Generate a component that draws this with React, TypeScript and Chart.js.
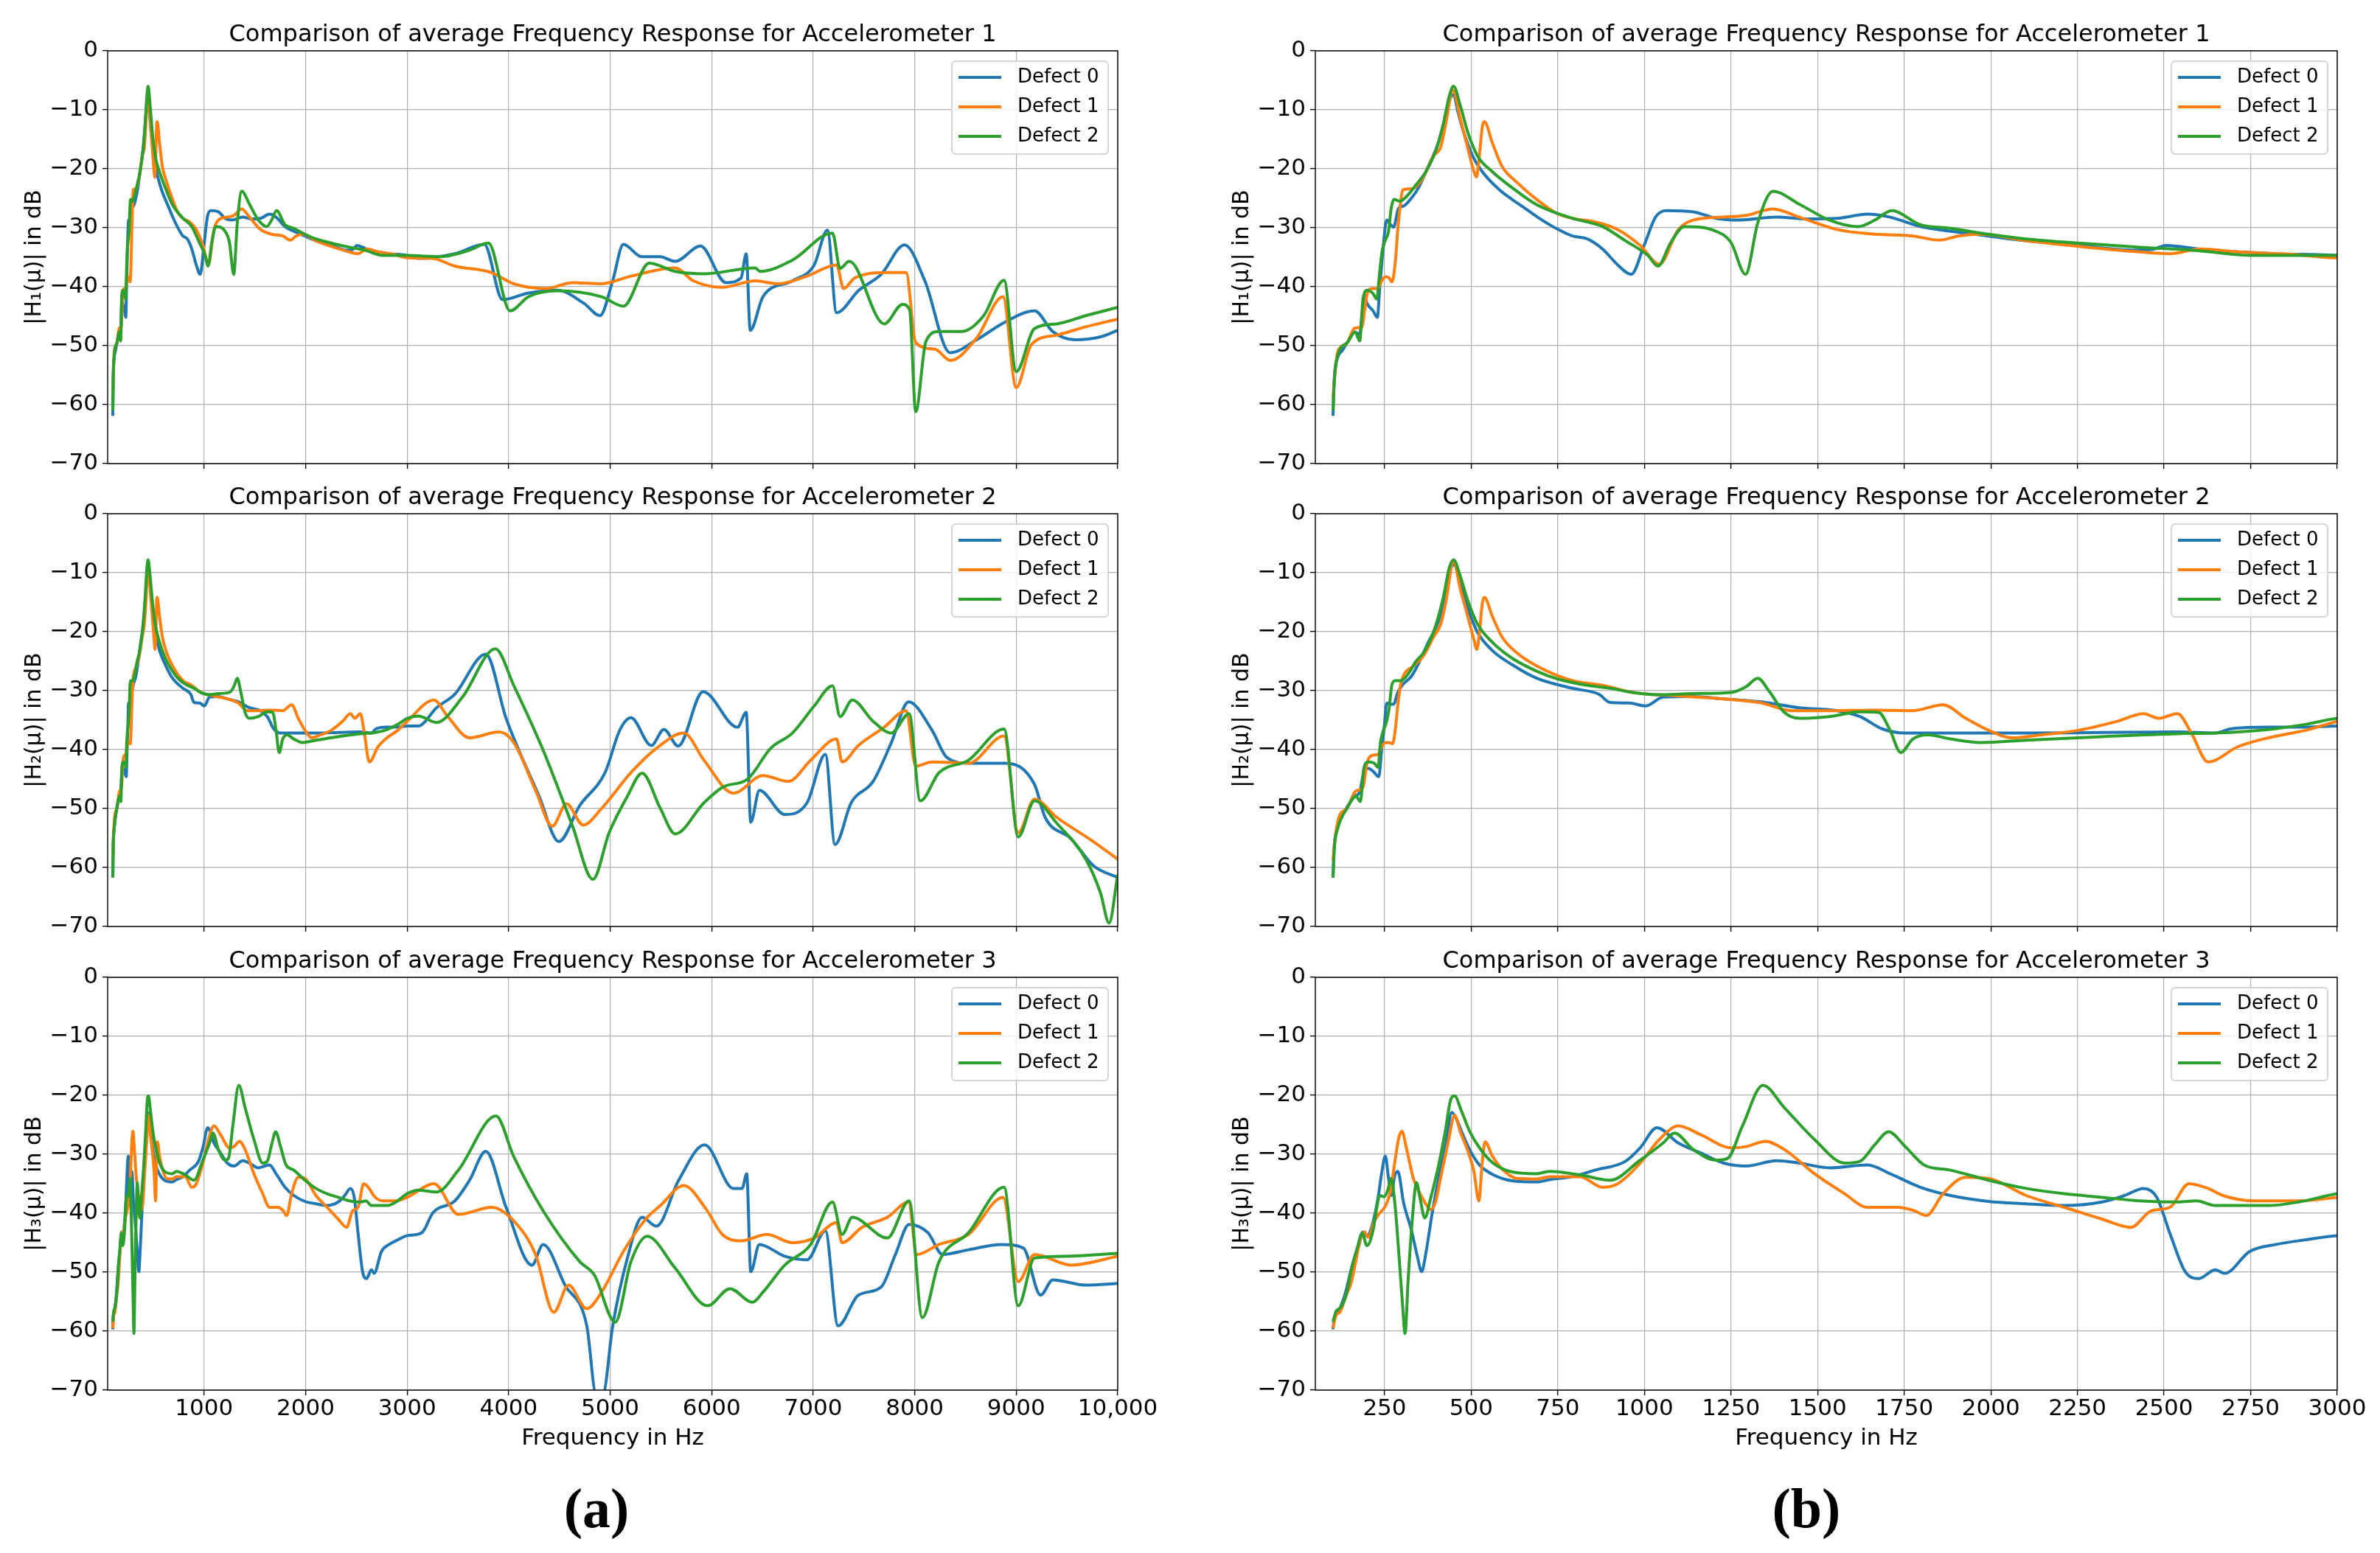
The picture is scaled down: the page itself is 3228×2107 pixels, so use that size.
import React, { useEffect, useRef } from 'react';
import { Chart, registerables } from 'chart.js';

Chart.register(...registerables);

const FONT_FAMILY = "'DejaVu Sans', 'Liberation Sans', sans-serif";

// ---------- labels / ticks ----------
const defectLabels = ['Defect 0', 'Defect 1', 'Defect 2'];
const defectColors = ['#1f77b4', '#ff7f0e', '#2ca02c'];
const chartTitles = [
  'Comparison of average Frequency Response for Accelerometer 1',
  'Comparison of average Frequency Response for Accelerometer 2',
  'Comparison of average Frequency Response for Accelerometer 3',
];
const yAxisLabels = ['|H\u2081(\u03bc)| in dB', '|H\u2082(\u03bc)| in dB', '|H\u2083(\u03bc)| in dB'];
const xAxisLabel = 'Frequency in Hz';
const xTicksWide = [1000, 2000, 3000, 4000, 5000, 6000, 7000, 8000, 9000, 10000];
const xTickLabelsWide = ['1000', '2000', '3000', '4000', '5000', '6000', '7000', '8000', '9000', '10,000'];
const xTicksNarrow = [250, 500, 750, 1000, 1250, 1500, 1750, 2000, 2250, 2500, 2750, 3000];
const xTickLabelsNarrow = ['250', '500', '750', '1000', '1250', '1500', '1750', '2000', '2250', '2500', '2750', '3000'];
const yTickValues = [-70, -60, -50, -40, -30, -20, -10, 0];
const panelLabels = ['(a)', '(b)'];

// ---------- data: [frequency Hz, magnitude dB] ----------
type Pair = [number, number];

const acc1Defect0: Pair[] = [[101,-61.9],[105,-55.3],[114,-52.1],[128,-50.8],[142,-49.5],[164,-47.7],[178,-48.1],[185,-44.6],[192,-41.4],[199,-42.8],[217,-44.1],[229,-45.2],[236,-40.1],[245,-33.9],[256,-28.7],[266,-29.4],[276,-29.9],[290,-26.7],[305,-26.3],[327,-25],[348,-23.2],[376,-19.6],[405,-15.6],[426,-11.1],[440,-8],[449,-7.4],[461,-10.2],[476,-13.4],[504,-17.8],[532,-20.5],[582,-23.6],[618,-25.2],[653,-26.6],[689,-28.1],[748,-30.2],[792,-31.4],[835,-31.9],[879,-33.6],[923,-36.3],[962,-37.9],[999,-33],[1032,-28.2],[1065,-27.1],[1141,-27.3],[1207,-28.4],[1272,-28.7],[1381,-28.2],[1469,-28.5],[1556,-28.4],[1644,-27.7],[1709,-28.2],[1797,-29.8],[1884,-30.6],[1993,-31.4],[2102,-32.2],[2255,-33],[2408,-33.8],[2463,-33.7],[2507,-33],[2561,-33.3],[2627,-33.8],[2714,-34.1],[2823,-34.4],[3000,-34.7],[3110,-35.2],[3470,-34.4],[3760,-32.8],[3940,-42.2],[4190,-41.1],[4480,-40.6],[4740,-42.8],[4900,-44.9],[5025,-39],[5130,-32.8],[5310,-34.9],[5490,-34.9],[5640,-35.7],[5890,-33.1],[6140,-39.3],[6290,-38.5],[6340,-34.4],[6380,-47.4],[6505,-41.7],[6795,-39],[7010,-36.3],[7140,-30.4],[7230,-44.4],[7450,-40.6],[7670,-37.9],[7900,-32.9],[8100,-39],[8350,-51.2],[8610,-49],[8890,-46],[9180,-44.1],[9360,-47.6],[9580,-49],[9830,-48.5],[10000,-47.4]];

const acc1Defect1: Pair[] = [[101,-58.8],[105,-55.7],[114,-51.2],[121,-50.4],[142,-49.5],[164,-47],[185,-46.8],[192,-44.1],[199,-41.4],[213,-40.3],[231,-40.3],[240,-39.2],[252,-38.3],[263,-38.5],[271,-39.2],[281,-35.7],[288,-30.3],[295,-26.3],[302,-23.6],[320,-23.4],[337,-23.2],[362,-21.4],[391,-17.8],[412,-16.3],[426,-12.5],[447,-6.7],[469,-11.6],[490,-16.5],[508,-20.5],[515,-21.4],[522,-18.7],[532,-12.9],[538,-12],[561,-15.6],[589,-19.6],[632,-22.3],[689,-25.2],[748,-27.6],[792,-28.4],[857,-29],[923,-30.3],[988,-33],[1043,-36.2],[1098,-30.3],[1141,-28.7],[1229,-28.2],[1294,-27.9],[1371,-26.8],[1447,-28.2],[1556,-30.3],[1665,-31.1],[1775,-31.4],[1851,-32.1],[1906,-31.4],[1971,-31.1],[2102,-32.2],[2277,-33.3],[2430,-34.1],[2517,-34.4],[2605,-33.6],[2714,-34.1],[2867,-34.5],[3000,-35.1],[3250,-35.2],[3470,-36.5],[3830,-37.6],[4050,-39.5],[4370,-40.3],[4630,-39.3],[4915,-39.5],[5205,-38.2],[5640,-36.8],[5820,-39],[6105,-40.1],[6430,-39],[6650,-39.5],[6940,-38.2],[7230,-36.3],[7300,-40.3],[7410,-38.5],[7730,-37.6],[7915,-37.6],[8010,-49.5],[8200,-50.6],[8350,-52.5],[8610,-48.7],[8870,-41.7],[9000,-57.1],[9150,-49.8],[9400,-48.2],[9685,-46.8],[10000,-45.5]];

const acc1Defect2: Pair[] = [[101,-61],[105,-55.7],[117,-51.2],[142,-49.5],[165,-47.7],[178,-49.2],[188,-41.9],[200,-40.6],[217,-41.2],[227,-42.1],[236,-37.4],[243,-33.9],[252,-32.1],[261,-30.7],[269,-26.7],[277,-25.2],[295,-25.5],[313,-24.7],[341,-22.7],[369,-20.5],[398,-16.9],[419,-12.5],[437,-7.6],[449,-6],[469,-9.4],[490,-13.8],[518,-17.8],[561,-20.5],[618,-23.2],[689,-26.1],[792,-28.4],[879,-29.8],[945,-32.2],[1010,-34.7],[1039,-36.5],[1076,-32.5],[1115,-29.8],[1207,-30.6],[1250,-32.5],[1292,-37.9],[1327,-29.2],[1371,-23.8],[1447,-26],[1534,-28.7],[1617,-29.8],[1665,-28.7],[1714,-27.1],[1797,-29.5],[1884,-30.1],[1993,-31.1],[2102,-31.9],[2277,-32.7],[2430,-33.3],[2583,-33.8],[2758,-34.7],[3000,-34.7],[3325,-34.9],[3615,-33.8],[3800,-32.6],[4015,-44.1],[4195,-41.7],[4480,-40.7],[4915,-41.7],[5130,-43.3],[5385,-36],[5640,-37.4],[5930,-37.8],[6430,-36.8],[6475,-37.4],[6795,-35.5],[7190,-30.9],[7265,-36.9],[7355,-35.7],[7700,-46.3],[7880,-43],[7950,-43.9],[8010,-61.2],[8110,-49.3],[8240,-47.6],[8460,-47.6],[8680,-44.9],[8880,-38.9],[9000,-54.4],[9180,-47.1],[9400,-46.3],[9685,-44.9],[10000,-43.5]];

const acc2Defect0: Pair[] = [[101,-61.7],[105,-56.1],[114,-53.3],[128,-51.2],[142,-49.7],[164,-47.9],[178,-47.2],[192,-43.4],[203,-43.2],[217,-43.7],[233,-44.6],[242,-39.7],[249,-36.1],[256,-32.1],[266,-32.3],[276,-32.3],[288,-30.3],[302,-29],[327,-27.6],[348,-25.4],[376,-21.8],[405,-18.3],[426,-13.4],[444,-8.9],[451,-8.7],[469,-12],[490,-16],[518,-20.1],[561,-23.2],[618,-25.6],[689,-27.9],[792,-29.6],[868,-30.6],[901,-32],[956,-32.1],[1003,-32.6],[1054,-31.1],[1141,-31],[1229,-31.4],[1338,-31.9],[1447,-32.9],[1556,-33.4],[1622,-34.4],[1687,-36.5],[1753,-37.2],[1884,-37.2],[2102,-37.2],[2321,-37.1],[2539,-37],[2648,-37.2],[2692,-36.5],[2801,-36.2],[2910,-36.2],[3000,-36],[3110,-36],[3290,-32.9],[3470,-30.6],[3775,-23.8],[3975,-34.7],[4300,-47.9],[4495,-55.6],[4700,-49.5],[4950,-43.9],[5095,-36.7],[5205,-34.6],[5405,-39.3],[5530,-36.6],[5670,-39.4],[5915,-30.2],[6255,-36.2],[6340,-33.7],[6385,-52.3],[6470,-46.9],[6720,-51],[6940,-49],[7120,-40.8],[7215,-56.1],[7375,-49],[7590,-45.4],[7770,-38.8],[7940,-31.9],[8170,-36.7],[8315,-41.3],[8530,-42.3],[8890,-42.3],[9180,-45.9],[9285,-51.5],[9540,-55.1],[9760,-59.7],[10000,-61.7]];

const acc2Defect1: Pair[] = [[101,-58.8],[105,-56.1],[117,-51.7],[142,-49.9],[164,-47.2],[178,-46.8],[188,-46.3],[199,-42.3],[213,-41],[231,-40.8],[240,-39.7],[252,-38.8],[263,-38.8],[273,-39],[281,-36.5],[288,-32.5],[295,-29.4],[305,-27.4],[334,-25.8],[362,-24.1],[391,-20.9],[412,-18.7],[426,-15.2],[449,-8.2],[469,-12.9],[490,-17.4],[508,-21.4],[516,-23],[524,-20.1],[532,-15.2],[538,-14.2],[561,-17.4],[589,-20.9],[632,-23.6],[689,-25.8],[792,-28.3],[879,-29.1],[966,-30.3],[1098,-30.9],[1229,-31.4],[1338,-32.1],[1425,-33.4],[1534,-33.4],[1665,-33.3],[1775,-33.4],[1862,-32.4],[1928,-34.7],[1993,-36.7],[2059,-38],[2146,-37.5],[2255,-36.7],[2365,-35.2],[2441,-33.9],[2485,-34.7],[2539,-33.9],[2579,-37.2],[2627,-42.1],[2714,-39.5],[2801,-38],[2910,-36.7],[3000,-35.2],[3265,-31.6],[3400,-34.4],[3615,-38],[3905,-37],[4050,-38.8],[4265,-46.9],[4430,-53],[4570,-49.2],[4735,-52.8],[4915,-50],[5205,-43.9],[5455,-39.8],[5725,-37.2],[5925,-41.8],[6215,-47.4],[6505,-44.4],[6755,-45.4],[6975,-41.8],[7230,-38.2],[7285,-42.1],[7445,-39.3],[7700,-36.2],[7915,-33.4],[8010,-42.8],[8170,-42.1],[8530,-42.3],[8880,-37.7],[9020,-54.1],[9180,-48.4],[9400,-51.5],[9760,-55.6],[10000,-58.6]];

const acc2Defect2: Pair[] = [[101,-61.7],[105,-56.6],[114,-53.5],[142,-49.9],[167,-47.9],[180,-48.8],[190,-43.2],[203,-42.1],[220,-42.3],[231,-43],[238,-38.8],[245,-37],[256,-35.2],[263,-33],[271,-29],[281,-28.3],[298,-28.3],[320,-27],[341,-25],[362,-23.6],[391,-20.1],[419,-14.3],[437,-9.1],[449,-7.8],[469,-10.7],[490,-14.7],[518,-18.7],[561,-21.8],[618,-24.5],[689,-26.7],[748,-28],[835,-29.1],[901,-29.6],[966,-30.3],[1054,-30.7],[1141,-30.5],[1250,-30.3],[1294,-29.3],[1327,-27.9],[1360,-30.1],[1404,-33.7],[1447,-34.7],[1534,-34.4],[1622,-33.6],[1676,-33.7],[1709,-36.7],[1740,-40.5],[1775,-38.2],[1818,-37.5],[1884,-38.2],[1971,-38.8],[2102,-38.4],[2321,-37.8],[2539,-37.3],[2648,-37.2],[2801,-36.6],[2910,-35.7],[3000,-34.7],[3110,-34.3],[3290,-35.4],[3545,-31.1],[3870,-22.9],[4050,-29.1],[4345,-40.3],[4630,-53],[4830,-62],[4990,-54.1],[5170,-47.9],[5315,-44],[5495,-50],[5640,-54.3],[5925,-49],[6105,-46.4],[6360,-44.9],[6580,-39.8],[6795,-37.2],[7010,-32.6],[7190,-29.2],[7265,-34.4],[7385,-31.6],[7590,-35.2],[7770,-37.2],[7945,-33.9],[8055,-48.7],[8240,-43.9],[8530,-41.8],[8880,-36.5],[9020,-54.8],[9180,-48.7],[9400,-52.5],[9685,-58.6],[9830,-64.3],[9915,-69.4],[10000,-61.2]];

const acc3Defect0: Pair[] = [[101,-59.7],[105,-57.7],[117,-56.6],[135,-53.9],[156,-49],[174,-45.9],[187,-43.2],[199,-43.9],[217,-41.4],[231,-37.4],[242,-33],[252,-30.3],[261,-33.9],[270,-37],[278,-33.9],[288,-32.9],[305,-38.3],[327,-42.8],[344,-47.2],[357,-49.9],[369,-46.8],[387,-40.1],[405,-34.3],[426,-28.5],[444,-22.9],[458,-24.1],[476,-26.7],[497,-29.4],[525,-31.9],[561,-33.4],[618,-34.5],[689,-34.7],[726,-34.3],[792,-33.8],[857,-32.7],[945,-31.2],[988,-28.9],[1036,-25.5],[1098,-28.1],[1163,-29.8],[1229,-31.5],[1294,-32],[1381,-31.1],[1447,-31.5],[1534,-32.3],[1644,-31.8],[1709,-33.3],[1797,-35.6],[1884,-37],[1993,-38],[2102,-38.4],[2212,-38.7],[2321,-38.1],[2386,-37],[2441,-35.8],[2479,-37.3],[2518,-43.6],[2561,-49.9],[2600,-51.1],[2648,-49.6],[2675,-50.2],[2747,-46.5],[2823,-45.3],[2910,-44.5],[3000,-43.8],[3145,-43.3],[3255,-39.9],[3470,-37.9],[3615,-34.4],[3775,-29.5],[3975,-39],[4230,-48.8],[4340,-45.3],[4555,-52.2],[4770,-59.1],[4860,-70.5],[4930,-70.5],[5025,-59.1],[5170,-47.6],[5315,-40.7],[5455,-42.2],[5675,-34.4],[5930,-28.4],[6215,-35.8],[6300,-35.8],[6345,-33.3],[6385,-49.9],[6470,-45.3],[6720,-47.3],[6940,-47.9],[7120,-43],[7245,-59.1],[7445,-53.9],[7670,-52.5],[7810,-47],[7945,-41.9],[8130,-43.3],[8275,-47],[8530,-46.2],[8855,-45.3],[9070,-45.9],[9240,-53.9],[9360,-51.3],[9685,-52.2],[10000,-51.9]];

const acc3Defect1: Pair[] = [[101,-59.5],[110,-57.3],[121,-56.8],[139,-53.9],[153,-51.9],[167,-48.1],[181,-44.1],[192,-43.2],[203,-44.1],[220,-41.4],[234,-40.1],[252,-38.8],[266,-36.5],[281,-30.7],[291,-27.2],[300,-26.1],[313,-29],[334,-34.3],[355,-37],[373,-38.8],[383,-39.4],[398,-37.9],[412,-33.9],[433,-28.1],[452,-23.4],[469,-26.3],[490,-29.4],[508,-33],[522,-37.9],[532,-31.2],[540,-27.9],[561,-30.3],[589,-32.5],[632,-34.1],[689,-34.2],[726,-33.8],[814,-33.8],[879,-35.6],[923,-35],[988,-31.5],[1043,-27.5],[1098,-25.2],[1163,-26.7],[1250,-28.9],[1294,-28.7],[1349,-27.8],[1404,-29.2],[1491,-33.3],[1578,-36.7],[1644,-39],[1731,-39],[1775,-39.5],[1814,-40.4],[1862,-36.7],[1928,-33.9],[1993,-34.1],[2102,-37],[2212,-39],[2321,-41],[2404,-42.4],[2463,-39.6],[2517,-39],[2572,-35],[2627,-35.8],[2670,-37],[2758,-37.9],[2889,-37.9],[3000,-37.3],[3265,-35],[3505,-40.2],[3830,-39],[4050,-41.3],[4265,-47],[4445,-56.8],[4590,-52.2],[4770,-56.2],[4915,-53.4],[5130,-46.5],[5350,-41],[5495,-38.7],[5725,-35.3],[5945,-39.3],[6105,-43.6],[6290,-44.7],[6545,-43.6],[6795,-45],[7010,-44.2],[7230,-41.6],[7285,-45],[7480,-42.4],[7730,-40.7],[7940,-38.1],[8020,-47],[8240,-45.3],[8530,-43.6],[8870,-37.3],[9020,-51.6],[9180,-47],[9540,-48.8],[10000,-47.3]];

const acc3Defect2: Pair[] = [[101,-58.4],[110,-56.6],[121,-56.1],[139,-53.9],[156,-49],[171,-45.9],[185,-43.4],[199,-45.5],[217,-42.8],[227,-39.2],[236,-37],[249,-37.2],[259,-36.1],[269,-34.1],[281,-39.2],[291,-46.8],[302,-55.7],[309,-60.4],[318,-51.2],[330,-41],[342,-34.8],[352,-37.4],[366,-40.8],[383,-37.4],[405,-32.1],[426,-25.8],[440,-20.9],[452,-20.1],[472,-22.7],[497,-26.3],[525,-29],[561,-31.4],[618,-33],[689,-33.3],[726,-32.9],[814,-33.5],[901,-34.4],[988,-31],[1054,-28.1],[1087,-26.4],[1141,-29.2],[1207,-31],[1240,-30.7],[1283,-25.2],[1342,-18.3],[1404,-22.1],[1491,-27.5],[1578,-31.5],[1622,-31.2],[1665,-28.4],[1705,-26.2],[1753,-28.7],[1807,-31.8],[1884,-32.7],[1993,-34.4],[2102,-35.8],[2212,-36.7],[2321,-37.3],[2430,-37.9],[2539,-38.1],[2594,-37.9],[2648,-38.7],[2801,-38.7],[2889,-38.1],[3000,-36.7],[3110,-36.1],[3290,-36.4],[3505,-32.7],[3875,-23.5],[4050,-30.4],[4340,-39.6],[4700,-48.2],[4845,-50.5],[5050,-58.5],[5205,-48.2],[5365,-43.9],[5640,-49.3],[5960,-55.7],[6180,-52.8],[6400,-55.1],[6505,-53.4],[6720,-48.8],[6975,-45.3],[7190,-38.1],[7285,-43.6],[7385,-40.7],[7730,-44.2],[7945,-37.9],[8075,-57.7],[8240,-48.2],[8530,-43.3],[8880,-35.6],[9020,-55.7],[9180,-47.6],[9470,-47.3],[10000,-46.8]];

const accelerometerSeries: Pair[][][] = [
  [acc1Defect0, acc1Defect1, acc1Defect2],
  [acc2Defect0, acc2Defect1, acc2Defect2],
  [acc3Defect0, acc3Defect1, acc3Defect2],
];

// ---------- layout ----------
const PLOT_H = 560;
const Y_AXIS_W = 146;
const TITLE_H = 66;
const ROW_TOPS = [69, 697, 1326];

const frameLegendPlugin = {
  id: 'frameLegend',
  afterDraw(chart: any) {
    const { ctx, chartArea: a } = chart;
    ctx.save();
    ctx.strokeStyle = '#000';
    ctx.lineWidth = 1.4;
    ctx.strokeRect(a.left, a.top, a.right - a.left, a.bottom - a.top);

    const bw = 212;
    const bh = 126;
    const bx = a.right - 13 - bw;
    const by = a.top + 14;
    ctx.beginPath();
    if ((ctx as any).roundRect) (ctx as any).roundRect(bx, by, bw, bh, 5);
    else ctx.rect(bx, by, bw, bh);
    ctx.fillStyle = 'rgba(255,255,255,0.8)';
    ctx.fill();
    ctx.strokeStyle = '#d4d4d4';
    ctx.lineWidth = 2;
    ctx.stroke();

    ctx.font = `26px ${FONT_FAMILY}`;
    ctx.textBaseline = 'middle';
    ctx.textAlign = 'left';
    defectLabels.forEach((lab, i) => {
      const y = by + 22 + i * 40;
      ctx.strokeStyle = defectColors[i];
      ctx.lineWidth = 4;
      ctx.beginPath();
      ctx.moveTo(bx + 9, y);
      ctx.lineTo(bx + 67, y);
      ctx.stroke();
      ctx.fillStyle = '#000';
      ctx.fillText(lab, bx + 89, y);
    });
    ctx.restore();
  },
};

interface PanelProps {
  plotLeft: number;
  plotTop: number;
  plotWidth: number;
  rightPad: number;
  xMax: number;
  xTicks: number[];
  xLabels: string[];
  showXLabels: boolean;
  row: number;
}

const fmtY = (v: number) => (v < 0 ? '\u2212' + Math.abs(v) : String(v));

function Panel(p: PanelProps) {
  const ref = useRef<HTMLCanvasElement>(null);
  const bottomH = p.showXLabels ? 110 : 9;
  const canvasLeft = p.plotLeft - Y_AXIS_W;
  const canvasTop = p.plotTop - TITLE_H;
  const width = Y_AXIS_W + p.plotWidth + p.rightPad;
  const height = TITLE_H + PLOT_H + bottomH;

  useEffect(() => {
    if (!ref.current) return;
    const series = accelerometerSeries[p.row];
    const datasets = series.map((pts, i) => ({
      label: defectLabels[i],
      data: pts.map(([x, y]) => ({ x, y })),
      borderColor: defectColors[i],
      backgroundColor: defectColors[i],
      borderWidth: 4,
      pointRadius: 0,
      cubicInterpolationMode: 'monotone' as const,
      fill: false,
      borderJoinStyle: 'round' as const,
      order: 3 - i,
    }));
    const tickFont = { family: FONT_FAMILY, size: 31 };
    const chart = new Chart(ref.current, {
      type: 'line',
      data: { datasets },
      plugins: [frameLegendPlugin],
      options: {
        animation: false,
        responsive: false,
        maintainAspectRatio: false,
        events: [],
        layout: { padding: { left: 0, right: p.rightPad, top: 0, bottom: 0 } },
        plugins: {
          legend: { display: false },
          tooltip: { enabled: false },
          title: {
            display: true,
            text: chartTitles[p.row],
            color: '#000',
            fullSize: false,
            font: { family: FONT_FAMILY, size: 32, weight: 'normal' },
            padding: { top: 25, bottom: 2.6 },
          },
        },
        scales: {
          x: {
            type: 'linear',
            min: 50,
            max: p.xMax,
            afterBuildTicks: (scale: any) => {
              scale.ticks = p.xTicks.map((v) => ({ value: v }));
            },
            afterFit: (scale: any) => {
              scale.height = bottomH;
              scale.paddingLeft = 0;
              scale.paddingRight = 0;
            },
            border: { display: false },
            grid: {
              color: '#b0b0b0',
              lineWidth: 1.2,
              drawTicks: true,
              tickLength: 7,
              tickColor: '#000',
              tickWidth: 1.4,
            },
            ticks: {
              display: p.showXLabels,
              autoSkip: false,
              maxRotation: 0,
              minRotation: 0,
              padding: 0,
              color: '#000',
              font: tickFont,
              callback: (v: any) => {
                const idx = p.xTicks.indexOf(Number(v));
                return idx >= 0 ? p.xLabels[idx] : '';
              },
            },
            title: {
              display: p.showXLabels,
              text: xAxisLabel,
              color: '#000',
              font: { family: FONT_FAMILY, size: 31 },
              padding: { top: 0, bottom: 25 },
            },
          },
          y: {
            type: 'linear',
            min: -70,
            max: 0,
            afterBuildTicks: (scale: any) => {
              scale.ticks = yTickValues.map((v) => ({ value: v }));
            },
            afterFit: (scale: any) => {
              scale.width = Y_AXIS_W;
              scale.paddingTop = 0;
              scale.paddingBottom = 0;
            },
            border: { display: false },
            grid: {
              color: '#b0b0b0',
              lineWidth: 1.2,
              drawTicks: true,
              tickLength: 7,
              tickColor: '#000',
              tickWidth: 1.4,
            },
            ticks: {
              padding: 6,
              color: '#000',
              font: tickFont,
              callback: (v: any) => fmtY(Number(v)),
            },
            title: {
              display: true,
              text: yAxisLabels[p.row],
              color: '#000',
              font: { family: FONT_FAMILY, size: 30 },
              padding: { top: 29, bottom: 0 },
            },
          },
        },
      } as any,
    });
    return () => chart.destroy();
  }, []);

  return (
    <canvas
      ref={ref}
      width={width}
      height={height}
      style={{ position: 'absolute', left: canvasLeft, top: canvasTop, width, height }}
    />
  );
}

export default function App() {
  const columns = [
    { plotLeft: 146, plotWidth: 1370, rightPad: 70, xMax: 10000, xTicks: xTicksWide, xLabels: xTickLabelsWide, labelX: 809 },
    { plotLeft: 1784, plotWidth: 1386, rightPad: 50, xMax: 3000, xTicks: xTicksNarrow, xLabels: xTickLabelsNarrow, labelX: 2450 },
  ];
  return (
    <div style={{ position: 'absolute', left: 0, top: 0, width: 3228, height: 2107, background: '#fff', overflow: 'hidden' }}>
      {columns.map((c, ci) =>
        ROW_TOPS.map((t, ri) => (
          <Panel
            key={`${ci}-${ri}`}
            plotLeft={c.plotLeft}
            plotTop={t}
            plotWidth={c.plotWidth}
            rightPad={c.rightPad}
            xMax={c.xMax}
            xTicks={c.xTicks}
            xLabels={c.xLabels}
            showXLabels={ri === 2}
            row={ri}
          />
        ))
      )}
      {columns.map((c, ci) => (
        <div
          key={`lab-${ci}`}
          style={{
            position: 'absolute',
            left: c.labelX - 150,
            top: 2008,
            width: 300,
            textAlign: 'center',
            fontFamily: "'Liberation Serif', 'DejaVu Serif', serif",
            fontWeight: 'bold',
            fontSize: 76,
            lineHeight: '76px',
            color: '#000',
          }}
        >
          {panelLabels[ci]}
        </div>
      ))}
    </div>
  );
}
